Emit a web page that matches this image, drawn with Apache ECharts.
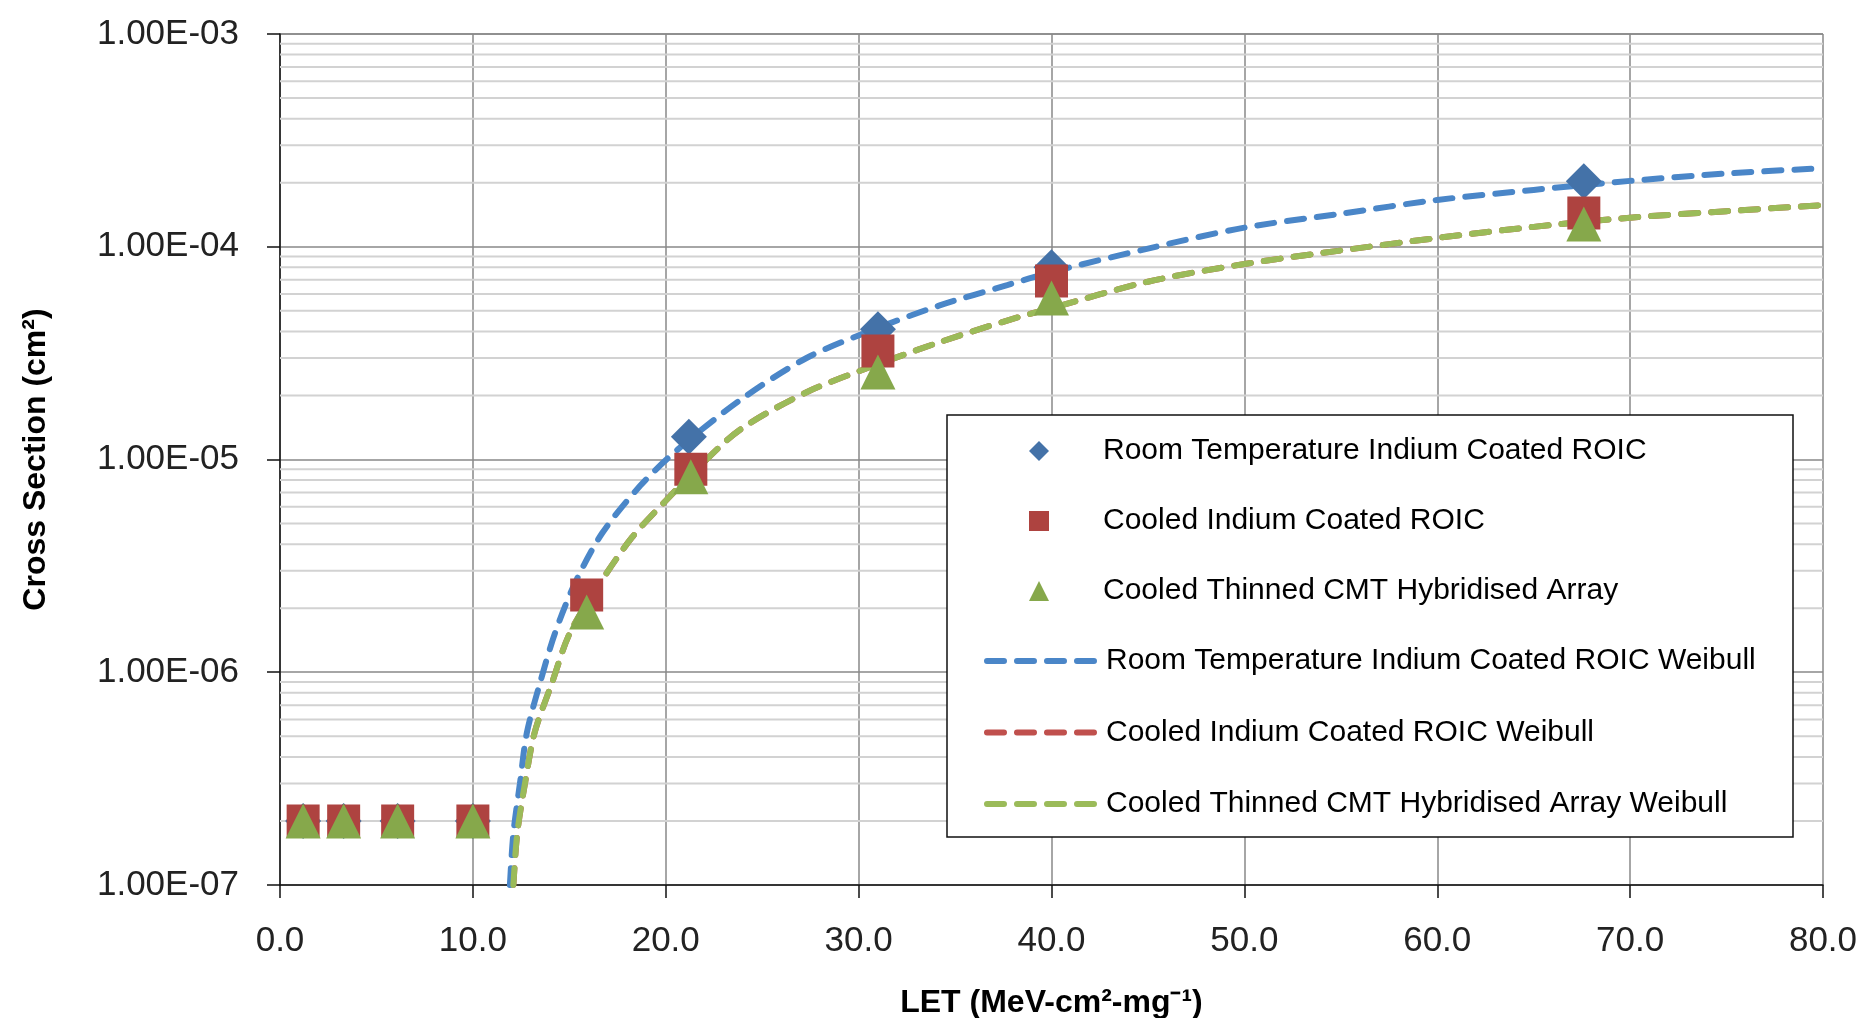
<!DOCTYPE html>
<html>
<head>
<meta charset="UTF-8">
<script src="https://cdn.jsdelivr.net/npm/echarts@6/dist/echarts.min.js"></script>
<style>
    html, body { margin: 0; padding: 0; background: #fff; }
    #chart { width: 1863px; height: 1018px; }
</style>
</head>
<body>
<div id="chart"></div>
<script>
    /* measured points [LET, cross section] */
    var roomTempROIC = [[1.2, 2e-7], [3.3, 2e-7], [6.1, 2e-7], [10.0, 2e-7], [21.2, 1.28e-5], [31.0, 4.1e-5], [40.0, 8.0e-5], [67.6, 2.03e-4]];
    var cooledROIC = [[1.2, 2e-7], [3.3, 2e-7], [6.1, 2e-7], [10.0, 2e-7], [15.9, 2.31e-6], [21.3, 9.0e-6], [31.0, 3.24e-5], [40.0, 6.9e-5], [67.6, 1.44e-4]];
    var cooledCMT = [[1.2, 2e-7], [3.3, 2e-7], [6.1, 2e-7], [10.0, 2e-7], [15.9, 1.92e-6], [21.3, 8.3e-6], [31.0, 2.58e-5], [40.0, 5.75e-5], [67.6, 1.28e-4]];

    /* weibull fits */
    var roomTempWeibull = [[11.92, 1.0e-7], [12.1, 1.75e-7], [12.44, 3.0e-7], [12.8, 5.2e-7], [13.48, 8.9e-7], [14.26, 1.53e-6],
        [15.3, 2.63e-6], [16.7, 4.5e-6], [18.66, 7.5e-6], [20.6, 1.11e-5], [23.85, 1.9e-5], [27.3, 3.0e-5], [30.74, 4.07e-5],
        [34.2, 5.3e-5], [37.7, 6.6e-5], [40, 7.6e-5], [45, 9.8e-5], [50, 1.23e-4], [55, 1.43e-4], [60, 1.66e-4], [65, 1.85e-4],
        [70, 2.04e-4], [75, 2.21e-4], [80, 2.34e-4]];
    var cooledROICWeibull = [[12.1, 1.0e-7], [12.3, 1.75e-7], [12.7, 3.0e-7], [13.2, 5.2e-7], [14.1, 8.9e-7], [15.03, 1.53e-6],
        [16.6, 2.63e-6], [18.25, 4.3e-6], [20.0, 6.4e-6], [21.6, 9.0e-6], [23.85, 1.38e-5], [27.3, 2.07e-5], [30.74, 2.75e-5],
        [34.2, 3.56e-5], [37.7, 4.5e-5], [40, 5.15e-5], [45, 6.85e-5], [50, 8.3e-5], [55, 9.6e-5], [60, 1.1e-4], [65, 1.24e-4],
        [70, 1.37e-4], [75, 1.47e-4], [80, 1.57e-4]];
    var cooledCMTWeibull = [[12.1, 1.0e-7], [12.3, 1.75e-7], [12.7, 3.0e-7], [13.2, 5.2e-7], [14.1, 8.9e-7], [15.03, 1.53e-6],
        [16.6, 2.63e-6], [18.25, 4.3e-6], [20.0, 6.4e-6], [21.6, 9.0e-6], [23.85, 1.38e-5], [27.3, 2.07e-5], [30.74, 2.75e-5],
        [34.2, 3.56e-5], [37.7, 4.5e-5], [40, 5.15e-5], [45, 6.85e-5], [50, 8.3e-5], [55, 9.6e-5], [60, 1.1e-4], [65, 1.24e-4],
        [70, 1.37e-4], [75, 1.47e-4], [80, 1.57e-4]];

    /* axis ticks */
    var xTicks = [0, 10, 20, 30, 40, 50, 60, 70, 80];
    var decades = [-7, -6, -5, -4];
    var minorSteps = [2, 3, 4, 5, 6, 7, 8, 9];

    var names = [
        'Room Temperature Indium Coated ROIC',
        'Cooled Indium Coated ROIC',
        'Cooled Thinned CMT Hybridised Array',
        'Room Temperature Indium Coated ROIC Weibull',
        'Cooled Indium Coated ROIC Weibull',
        'Cooled Thinned CMT Hybridised Array Weibull'
    ];

    var font = "'Liberation Sans', Arial, sans-serif";

    // 2..9 x 10^n, for the light log grid
    var minorValues = [];
    decades.forEach(function (d) {
        minorSteps.forEach(function (m) {
            minorValues.push(m * Math.pow(10, d));
        });
    });

    function sciLabel(v) {
        var e = Math.round(Math.log10(v));
        var m = v / Math.pow(10, e);
        return m.toFixed(2) + 'E' + (e < 0 ? '-' : '+') + String(Math.abs(e)).padStart(2, '0');
    }

    var dash = [17, 13];
    var legendText = {fontSize: 30, color: '#000', fontFamily: font};

    var legendFrame = {
        id: 'frame',
        type: 'rect',
        z: 5,
        shape: {x: 947, y: 415, width: 846, height: 422},
        style: {fill: '#fff', stroke: '#111', lineWidth: 1.5}
    };

    var chart = echarts.init(document.getElementById('chart'));
    var option = {
        backgroundColor: '#fff',
        animation: false,
        textStyle: {fontFamily: font},
        grid: {left: 280, right: 40, top: 34, bottom: 133, outerBoundsMode: 'none', containLabel: false},
        graphic: [legendFrame],
        legend: [
            {
                data: names.slice(0, 3),
                orient: 'vertical',
                left: 1029,
                top: 436,
                padding: 0,
                itemGap: 40,
                itemWidth: 20,
                itemHeight: 20,
                z: 6,
                textStyle: Object.assign({padding: [0, 0, 0, 49]}, legendText)
            },
            {
                data: names.slice(3),
                orient: 'vertical',
                left: 984,
                top: 646,
                padding: 0,
                itemGap: 41.5,
                itemWidth: 107,
                itemHeight: 20,
                z: 6,
                textStyle: Object.assign({padding: [0, 0, 0, 7]}, legendText),
                lineStyle: {width: 6, cap: 'round'}
            }
        ],
        xAxis: {
            type: 'value',
            min: 0,
            max: 80,
            interval: 10,
            name: 'LET (MeV-cm²-mg⁻¹)',
            nameLocation: 'middle',
            nameGap: 102,
            nameTextStyle: {fontSize: 32, fontWeight: 'bold', color: '#000', fontFamily: font},
            axisLine: {lineStyle: {color: '#111', width: 1.5}},
            axisTick: {length: 13, lineStyle: {color: '#111', width: 1.5}},
            axisLabel: {
                fontSize: 35, color: '#222', margin: 39,
                formatter: function (v) { return xTicks.indexOf(v) >= 0 ? v.toFixed(1) : ''; }
            },
            splitLine: {show: true, lineStyle: {color: '#888', width: 1.5}}
        },
        yAxis: {
            type: 'log',
            logBase: 10,
            min: 1e-7,
            max: 1e-3,
            name: 'Cross Section (cm²)',
            nameLocation: 'middle',
            nameGap: 228,
            nameTextStyle: {fontSize: 32, fontWeight: 'bold', color: '#000', fontFamily: font},
            axisLine: {show: true, lineStyle: {color: '#111', width: 1.5}},
            axisTick: {show: true, length: 13, lineStyle: {color: '#111', width: 1.5}},
            axisLabel: {fontSize: 35, color: '#222', margin: 41, formatter: sciLabel},
            splitLine: {show: true, lineStyle: {color: '#888', width: 1.5}}
        },
        series: [
            {
                name: names[4], type: 'line', data: cooledROICWeibull, z: 2,
                symbol: 'none', smooth: 0.3,
                lineStyle: {color: '#c0504d', width: 6, type: dash, cap: 'round'},
                itemStyle: {color: 'rgba(0,0,0,0)', borderWidth: 0}
            },
            {
                name: names[3], type: 'line', data: roomTempWeibull, z: 2,
                symbol: 'none', smooth: 0.3,
                lineStyle: {color: '#4a86c8', width: 6, type: dash, cap: 'round'},
                itemStyle: {color: 'rgba(0,0,0,0)', borderWidth: 0}
            },
            {
                name: names[5], type: 'line', data: cooledCMTWeibull, z: 2,
                symbol: 'none', smooth: 0.3,
                lineStyle: {color: '#9bbb59', width: 6, type: dash, cap: 'round'},
                itemStyle: {color: 'rgba(0,0,0,0)', borderWidth: 0}
            },
            {
                name: names[0], type: 'scatter', data: roomTempROIC, z: 3,
                symbol: 'diamond', symbolSize: [36, 36],
                itemStyle: {color: '#4472a8', opacity: 1}
            },
            {
                name: names[1], type: 'scatter', data: cooledROIC, z: 3,
                symbol: 'rect', symbolSize: 33,
                itemStyle: {color: '#ae4340', opacity: 1}
            },
            {
                name: names[2], type: 'scatter', data: cooledCMT, z: 3,
                symbol: 'triangle', symbolSize: 35,
                itemStyle: {color: '#86a84b', opacity: 1}
            }
        ]
    };
    chart.setOption(option);

    /* light minor grid lines, placed through the log axis */
    var minorGrid = minorValues.map(function (v, i) {
        var a = chart.convertToPixel({gridIndex: 0}, [xTicks[0], v]);
        var b = chart.convertToPixel({gridIndex: 0}, [xTicks[xTicks.length - 1], v]);
        return {
            id: 'minor' + i,
            type: 'line',
            z: 1,
            silent: true,
            shape: {x1: a[0], y1: a[1], x2: b[0], y2: b[1]},
            style: {stroke: '#d2d2d2', lineWidth: 2}
        };
    });
    chart.setOption({graphic: [legendFrame].concat(minorGrid)});

    window.addEventListener('resize', function () {
        chart.resize();
    });
</script>
</body>
</html>
